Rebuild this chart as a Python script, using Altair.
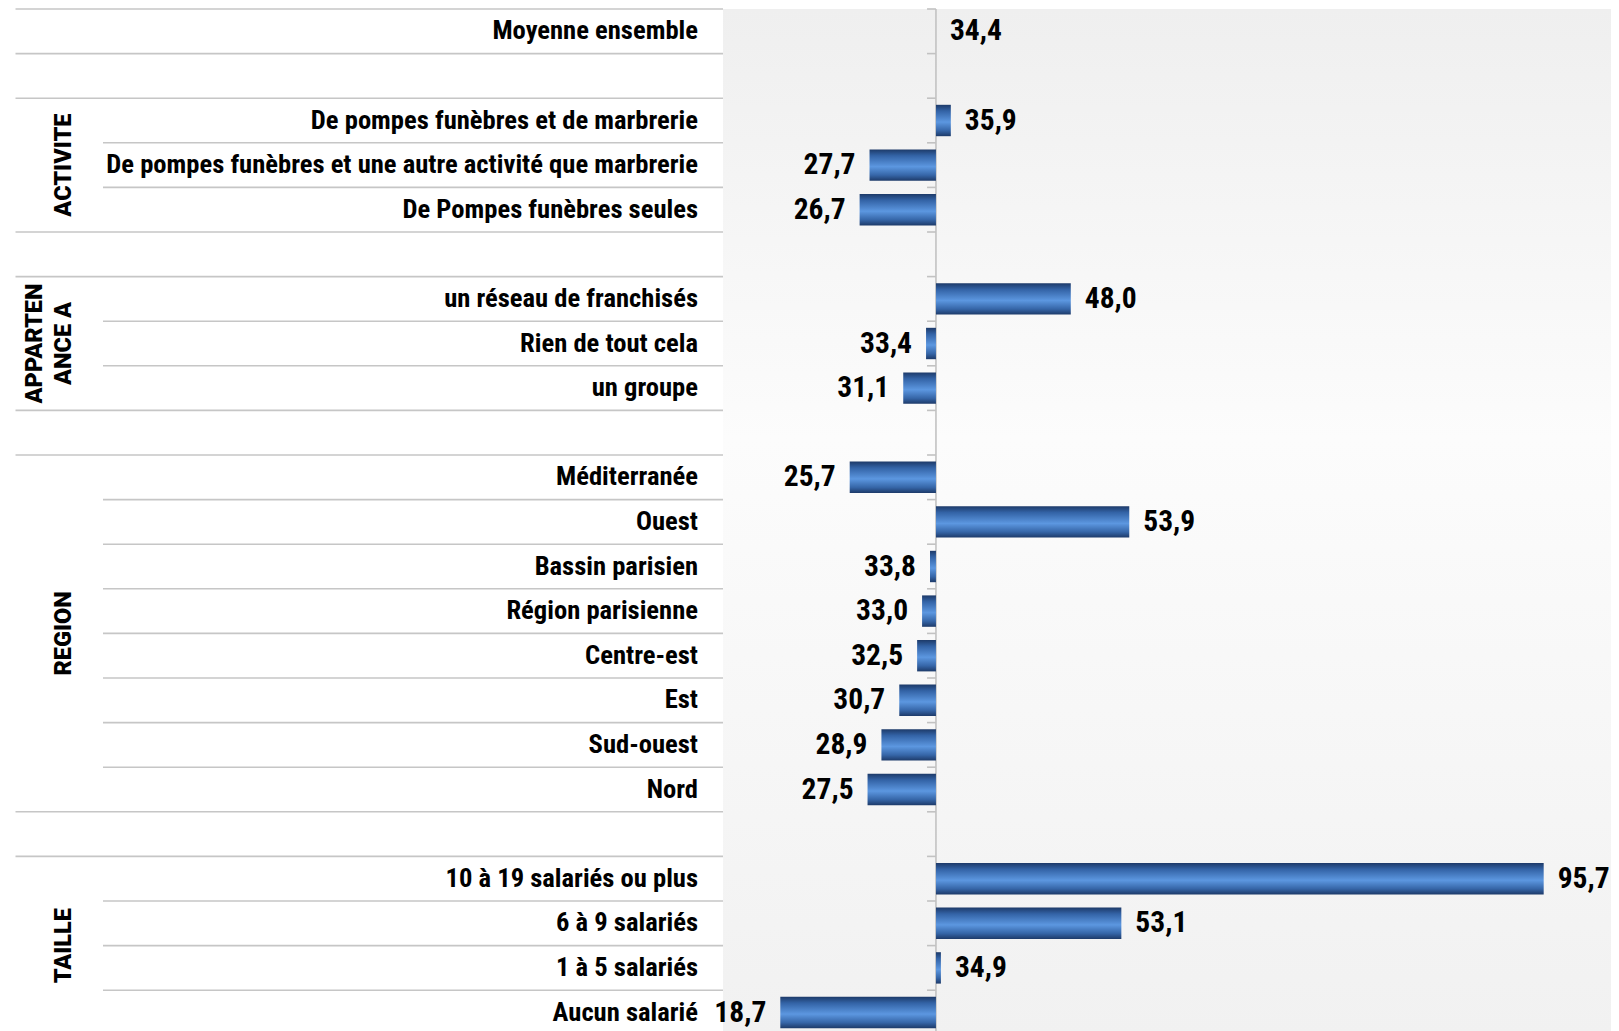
import subprocess
import altair as alt
import pandas as pd

# ---------------- data ----------------
mean_label = "Moyenne ensemble"
mean_value = 34.4

group_names = ["ACTIVITE", "APPARTEN\nANCE A", "REGION", "TAILLE"]
group_categories = [
    ["De pompes funèbres et de marbrerie",
     "De pompes funèbres et une autre activité que marbrerie",
     "De Pompes funèbres seules"],
    ["un réseau de franchisés", "Rien de tout cela", "un groupe"],
    ["Méditerranée", "Ouest", "Bassin parisien", "Région parisienne",
     "Centre-est", "Est", "Sud-ouest", "Nord"],
    ["10 à 19 salariés ou plus", "6 à 9 salariés", "1 à 5 salariés",
     "Aucun salarié"],
]
group_values = [
    [35.9, 27.7, 26.7],
    [48.0, 33.4, 31.1],
    [25.7, 53.9, 33.8, 33.0, 32.5, 30.7, 28.9, 27.5],
    [95.7, 53.1, 34.9, 18.7],
]

# ---------------- fonts (pick a narrow face if one is installed) ----------------
font_sizes = {
    "Liberation Sans Narrow": (26.5, 31),
    "Arial Narrow": (26.5, 31),
    "Nimbus Sans Narrow": (26.5, 31),
    "Roboto Condensed": (26.6, 29.5),
    "Open Sans Condensed": (25, 29),
    "Noto Sans ExtraCondensed": (27, 31),
    "Noto Sans Condensed": (23, 27),
    "DejaVu Sans Condensed": (21, 25),
}
narrow = "DejaVu Sans Condensed"
try:
    out = subprocess.run(["fc-list", ":", "family"], capture_output=True, text=True).stdout
    for cand in font_sizes:
        if cand in out:
            narrow = cand
            break
except Exception:
    pass
label_size, value_size = font_sizes[narrow]
label_font = f"{narrow}, DejaVu Sans Condensed, sans-serif"
group_font = "Roboto, Liberation Sans, Arial, sans-serif"

# ---------------- build tables ----------------
rows = [{"idx": 0, "label": mean_label, "value": mean_value}]
groups = []
boundaries = [{"b": 0, "full": 1}, {"b": 1, "full": 1}]
i = 2
for gname, cats, vals in zip(group_names, group_categories, group_values):
    start = i
    boundaries.append({"b": start, "full": 1})
    for k, (c, v) in enumerate(zip(cats, vals)):
        rows.append({"idx": i, "label": c, "value": v})
        if k > 0:
            boundaries.append({"b": i, "full": 0})
        i += 1
    boundaries.append({"b": i, "full": 1})
    groups.append({"name": gname, "center": (start + i) / 2,
                   "multi": 1 if "\n" in gname else 0})
    i += 1  # blank row

df = pd.DataFrame(rows)
df["mean"] = mean_value
df["yc"] = df["idx"] + 0.5
df["b0"] = df["idx"] + 0.148
df["b1"] = df["idx"] + 0.852
df["txt"] = df["value"].map(lambda v: f"{v:.1f}".replace(".", ","))
bdf = pd.DataFrame(boundaries).drop_duplicates("b")
bdf = bdf[bdf["b"] < 23]
bdf["mean"] = mean_value
bdf["tick0"] = mean_value - 0.9
gdf = pd.DataFrame(groups)

ROW_H = 44.6
H = 1024
D = H / ROW_H
LEFT_W = 715
RIGHT_W = 888
XMIN, XMAX = 12.92, 102.49

yscale = alt.Scale(domain=[0, D], reverse=True, nice=False, zero=False)
xscale = alt.Scale(domain=[XMIN, XMAX], nice=False, zero=False)

line_col = "#c6c6c6"

# ---------------- left table ----------------
lines_full = alt.Chart(bdf).transform_filter("datum.full == 1").mark_rule(
    color=line_col, strokeWidth=1.6).encode(
    y=alt.Y("b:Q", scale=yscale, axis=None),
    x=alt.value(7.5), x2=alt.value(LEFT_W))
lines_inner = alt.Chart(bdf).transform_filter("datum.full == 0").mark_rule(
    color=line_col, strokeWidth=1.6).encode(
    y=alt.Y("b:Q", scale=yscale, axis=None),
    x=alt.value(95), x2=alt.value(LEFT_W))
row_labels = alt.Chart(df).mark_text(
    align="right", baseline="middle", font=label_font, fontWeight="bold",
    fontSize=label_size, color="#000000", clip=True).encode(
    y=alt.Y("yc:Q", scale=yscale, axis=None),
    x=alt.value(690), text="label:N")
glabels_single = alt.Chart(gdf).transform_filter("datum.multi == 0").mark_text(
    align="center", baseline="middle", angle=270, font=group_font,
    fontWeight=900, fontSize=23.5, color="#000000").encode(
    y=alt.Y("center:Q", scale=yscale, axis=None),
    x=alt.value(56), text="name:N")
glabels_multi = alt.Chart(gdf).transform_filter("datum.multi == 1").mark_text(
    align="center", baseline="middle", angle=270, font=group_font,
    fontWeight=900, fontSize=23.5, lineHeight=29, lineBreak="\n",
    color="#000000").encode(
    y=alt.Y("center:Q", scale=yscale, axis=None),
    x=alt.value(27), text="name:N")

left = alt.layer(lines_full, lines_inner, row_labels, glabels_single,
                 glabels_multi).properties(width=LEFT_W, height=H)

# ---------------- right plot ----------------
bg_grad = alt.Gradient(gradient="linear", x1=0, x2=0, y1=0, y2=1, stops=[
    alt.GradientStop(offset=0, color="#efefef"),
    alt.GradientStop(offset=0.42, color="#fcfcfc"),
    alt.GradientStop(offset=1, color="#f1f1f1"),
])
bar_grad = alt.Gradient(gradient="linear", x1=0, x2=0, y1=0, y2=1, stops=[
    alt.GradientStop(offset=0, color="#1d3a69"),
    alt.GradientStop(offset=0.2, color="#3363a6"),
    alt.GradientStop(offset=0.55, color="#5c97e0"),
    alt.GradientStop(offset=0.82, color="#3666a8"),
    alt.GradientStop(offset=1, color="#1d3a69"),
])

bg = alt.Chart(pd.DataFrame({"a": [0]})).mark_rect(fill=bg_grad).encode(
    x=alt.value(0), x2=alt.value(RIGHT_W), y=alt.value(0), y2=alt.value(H))
axis_line = alt.Chart(pd.DataFrame({"m": [mean_value], "t": [0], "e": [D]})).mark_rule(
    color="#c2c2c2", strokeWidth=1.6).encode(
    x=alt.X("m:Q", scale=xscale, axis=None),
    y=alt.Y("t:Q", scale=yscale, axis=None), y2="e:Q")
ticks = alt.Chart(bdf).mark_rule(color="#c2c2c2", strokeWidth=1.6).encode(
    x=alt.X("tick0:Q", scale=xscale, axis=None), x2="mean:Q",
    y=alt.Y("b:Q", scale=yscale, axis=None))
bars = alt.Chart(df).transform_filter(f"datum.value != {mean_value}").mark_rect(
    fill=bar_grad, clip=True).encode(
    x=alt.X("mean:Q", scale=xscale, axis=None), x2="value:Q",
    y=alt.Y("b0:Q", scale=yscale, axis=None), y2="b1:Q")
vals_right = alt.Chart(df).transform_filter(f"datum.value >= {mean_value}").mark_text(
    align="left", baseline="middle", dx=14, font=label_font, fontWeight="bold",
    fontSize=value_size, color="#000000", clip=True).encode(
    x=alt.X("value:Q", scale=xscale, axis=None),
    y=alt.Y("yc:Q", scale=yscale, axis=None), text="txt:N")
vals_left = alt.Chart(df).transform_filter(f"datum.value < {mean_value}").mark_text(
    align="right", baseline="middle", dx=-14, font=label_font, fontWeight="bold",
    fontSize=value_size, color="#000000").encode(
    x=alt.X("value:Q", scale=xscale, axis=None),
    y=alt.Y("yc:Q", scale=yscale, axis=None), text="txt:N")

right = alt.layer(bg, axis_line, ticks, bars, vals_right, vals_left).properties(
    width=RIGHT_W, height=H)

chart = alt.hconcat(left, right, spacing=0, bounds="flush").properties(
    padding={"left": 0, "top": 0, "right": 0, "bottom": 0},
).configure_view(stroke=None).configure_concat(spacing=0)

chart.save("out.html", embed_options={"renderer": "svg", "actions": False})
